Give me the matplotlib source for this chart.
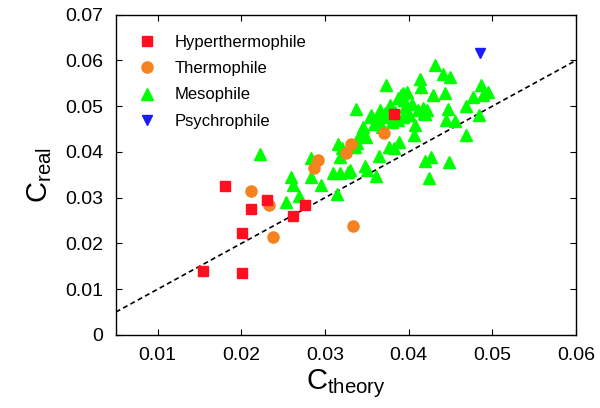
import numpy as np
import matplotlib.pyplot as plt

plt.rcParams['font.family'] = ['Liberation Sans', 'DejaVu Sans']
plt.rcParams['mathtext.fontset'] = 'custom'
plt.rcParams['mathtext.rm'] = 'Liberation Sans'

# data
hyper_x = [0.0154, 0.0180, 0.0201, 0.0201, 0.0211, 0.0231, 0.0262, 0.0276, 0.0383]
hyper_y = [0.0140, 0.0326, 0.0222, 0.0136, 0.0275, 0.0295, 0.0260, 0.0284, 0.0484]

thermo_x = [0.0212, 0.0233, 0.0238, 0.0287, 0.0292, 0.0325, 0.0331, 0.0333, 0.0370]
thermo_y = [0.0315, 0.0283, 0.0214, 0.0366, 0.0383, 0.0397, 0.0417, 0.0238, 0.0442]

meso_x = [0.0222, 0.0254, 0.0259, 0.0262, 0.0269, 0.0283, 0.0283, 0.0295, 0.0309, 0.0318,
          0.0314, 0.0316, 0.0318, 0.0327, 0.0320, 0.0330, 0.0336, 0.0338, 0.0341, 0.0345,
          0.0342, 0.0349, 0.0348, 0.0350, 0.0361, 0.0364, 0.0337, 0.0355, 0.0362, 0.0370,
          0.0373, 0.0366, 0.0378, 0.0377, 0.0383, 0.0389, 0.0390, 0.0393, 0.0394, 0.0398,
          0.0393, 0.0401, 0.0406, 0.0407, 0.0411, 0.0414, 0.0415, 0.0417, 0.0419, 0.0420,
          0.0427, 0.0424, 0.0429, 0.0432, 0.0441, 0.0450, 0.0444, 0.0447, 0.0445, 0.0455,
          0.0448, 0.0468, 0.0469, 0.0477, 0.0484, 0.0487, 0.0489, 0.0495, 0.0391, 0.0387,
          0.0372, 0.0380, 0.0387, 0.0400, 0.0355, 0.0418, 0.0422, 0.0358, 0.0368, 0.0384,
          0.0396, 0.0404]
meso_y = [0.0396, 0.0291, 0.0346, 0.0328, 0.0303, 0.0386, 0.0346, 0.0328, 0.0355, 0.0355,
          0.0309, 0.0417, 0.0390, 0.0357, 0.0408, 0.0361, 0.0411, 0.0419, 0.0435, 0.0454,
          0.0440, 0.0432, 0.0369, 0.0361, 0.0347, 0.0392, 0.0494, 0.0476, 0.0470, 0.0476,
          0.0546, 0.0492, 0.0503, 0.0410, 0.0409, 0.0422, 0.0519, 0.0528, 0.0514, 0.0532,
          0.0476, 0.0481, 0.0437, 0.0459, 0.0492, 0.0559, 0.0541, 0.0495, 0.0483, 0.0381,
          0.0388, 0.0344, 0.0524, 0.0590, 0.0570, 0.0563, 0.0528, 0.0494, 0.0470, 0.0468,
          0.0377, 0.0437, 0.0500, 0.0521, 0.0481, 0.0547, 0.0524, 0.0530, 0.0524, 0.0517,
          0.0485, 0.0466, 0.0470, 0.0481, 0.0481, 0.0486, 0.0492, 0.0462, 0.0455, 0.0488,
          0.0498, 0.0505]

psychro_x = [0.0485]
psychro_y = [0.0616]

fig = plt.figure(figsize=(6, 4.08), dpi=100)
ax = fig.add_axes([0.193, 0.179, 0.767, 0.785])

# reference line y = x
lx = np.array([0.005, 0.06])
ax.plot(lx, lx, color='black', linestyle=(0, (3, 2)), linewidth=1.2, zorder=1)

ax.plot(meso_x, meso_y, '^', color='#00ff00', markersize=8, linestyle='none', label='Mesophile', zorder=2)
ax.plot(thermo_x, thermo_y, 'o', color='#f5821f', markersize=8, linestyle='none', label='Thermophile', zorder=3)
ax.plot(hyper_x, hyper_y, 's', color='#ff0f1f', markersize=7.5, linestyle='none', label='Hyperthermophile', zorder=4)
ax.plot(psychro_x, psychro_y, 'v', color='#1a1aff', markersize=7, linestyle='none', label='Psychrophile', zorder=4)

ax.set_xlim(0.005, 0.06)
ax.set_ylim(0, 0.07)
ax.set_xticks([0.01, 0.02, 0.03, 0.04, 0.05, 0.06])
ax.set_xticklabels(['0.01', '0.02', '0.03', '0.04', '0.05', '0.06'])
ax.set_yticks([0, 0.01, 0.02, 0.03, 0.04, 0.05, 0.06, 0.07])
ax.set_yticklabels(['0', '0.01', '0.02', '0.03', '0.04', '0.05', '0.06', '0.07'])
ax.tick_params(direction='in', top=True, right=True, length=4, width=0.8, labelsize=14, pad=9)
for s in ax.spines.values():
    s.set_linewidth(1.0)

ax.set_xlabel(r'$\mathrm{C_{theory}}$', fontsize=21, labelpad=2)
ax.set_ylabel(r'$\mathrm{C_{real}}$', fontsize=21, labelpad=8)

h, l = ax.get_legend_handles_labels()
order = [2, 1, 0, 3]
ax.legend([h[i] for i in order], [l[i] for i in order], loc='upper left', frameon=False,
          fontsize=12, handletextpad=1.0, labelspacing=0.68, borderaxespad=0.8, handlelength=1.3)

fig.savefig('out.png', dpi=100)
